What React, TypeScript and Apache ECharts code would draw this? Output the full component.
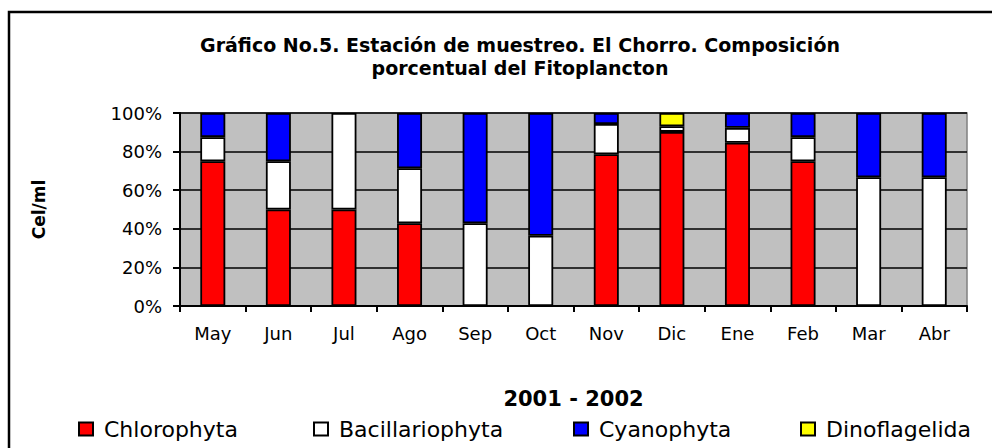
import React, { useEffect, useRef } from "react";
import * as echarts from "echarts";

const categories = ["May", "Jun", "Jul", "Ago", "Sep", "Oct", "Nov", "Dic", "Ene", "Feb", "Mar", "Abr"];
const chlorophyta = [75, 50, 50, 42.9, 0, 0, 78.6, 90.2, 84.6, 75, 0, 0];
const bacillariophyta = [12.5, 25, 50, 28.5, 42.9, 36.4, 15.7, 2.9, 7.7, 12.5, 66.7, 66.7];
const cyanophyta = [12.5, 25, 0, 28.6, 57.1, 63.6, 5.7, 0, 7.7, 12.5, 33.3, 33.3];
const dinoflagelida = [0, 0, 0, 0, 0, 0, 0, 6.9, 0, 0, 0, 0];
const yTicks = [0, 20, 40, 60, 80, 100];

const seriesDefs = [
  { name: "Chlorophyta", values: chlorophyta, color: "#ff0000" },
  { name: "Bacillariophyta", values: bacillariophyta, color: "#ffffff" },
  { name: "Cyanophyta", values: cyanophyta, color: "#0000ff" },
  { name: "Dinoflagelida", values: dinoflagelida, color: "#ffff00" },
];
const legendLefts = [78, 313, 573, 800];

export default function App() {
  const ref = useRef<HTMLDivElement>(null);
  useEffect(() => {
    if (!ref.current) return;
    const chart = echarts.init(ref.current, undefined, { renderer: "svg" });
    const labelFont = "'DejaVu Sans', sans-serif";
    chart.setOption({
      animation: false,
      backgroundColor: "#ffffff",
      title: {
        text: "Gráfico No.5. Estación de muestreo. El Chorro. Composición\nporcentual del Fitoplancton",
        left: 515,
        textAlign: "center",
        top: 28,
        textStyle: {
          fontFamily: labelFont,
          fontWeight: "bold",
          fontSize: 19,
          lineHeight: 23,
          color: "#000",
        },
      },
      graphic: [
        {
          type: "rect",
          z: -10,
          shape: { x: 9, y: 12, width: 1000, height: 460 },
          style: { fill: "none", stroke: "#000", lineWidth: 2.5 },
          silent: true,
        },
      ],
      legend: seriesDefs.map((s, i) => ({
        data: [s.name],
        left: legendLefts[i],
        top: 418,
        padding: 0,
        itemWidth: 14,
        itemHeight: 13,
        icon: "rect",
        textStyle: { fontFamily: labelFont, fontSize: 22, color: "#000", padding: [0, 0, 0, 6] },
      })),
      grid: {
        left: 180,
        right: 25,
        top: 113,
        bottom: 142,
        show: true,
        backgroundColor: "#c0c0c0",
        borderColor: "#808080",
        borderWidth: 1.5,
      },
      xAxis: {
        type: "category",
        data: categories,
        name: "2001 - 2002",
        nameLocation: "middle",
        nameGap: 82,
        nameTextStyle: { fontFamily: labelFont, fontWeight: "bold", fontSize: 21, color: "#000" },
        axisLine: { lineStyle: { color: "#000", width: 2 } },
        axisTick: { show: true, length: 6, lineStyle: { color: "#000", width: 2 } },
        axisLabel: { fontFamily: labelFont, fontSize: 18, color: "#000", margin: 18 },
        splitLine: { show: false },
      },
      yAxis: {
        type: "value",
        min: yTicks[0],
        max: yTicks[yTicks.length - 1],
        interval: 20,
        name: "Cel/ml",
        nameLocation: "middle",
        nameGap: 133,
        nameTextStyle: { fontFamily: labelFont, fontWeight: "bold", fontSize: 17, color: "#000" },
        axisLine: { show: true, lineStyle: { color: "#000", width: 2 } },
        axisTick: { show: true, length: 7, lineStyle: { color: "#000", width: 2 } },
        axisLabel: { fontFamily: labelFont, fontSize: 18, color: "#000", margin: 18, formatter: "{value}%" },
        splitLine: { show: true, lineStyle: { color: "#000", width: 1.5 } },
      },
      series: seriesDefs.map((s) => ({
        name: s.name,
        type: "bar",
        stack: "total",
        barWidth: 25,
        data: s.values.map((v) => (v === 0 ? null : v)),
        itemStyle: { color: s.color, borderColor: "#000", borderWidth: 1.8 },
      })),
    });
    return () => chart.dispose();
  }, []);
  return <div ref={ref} style={{ position: "absolute", left: 0, top: 0, width: 992, height: 448 }} />;
}
